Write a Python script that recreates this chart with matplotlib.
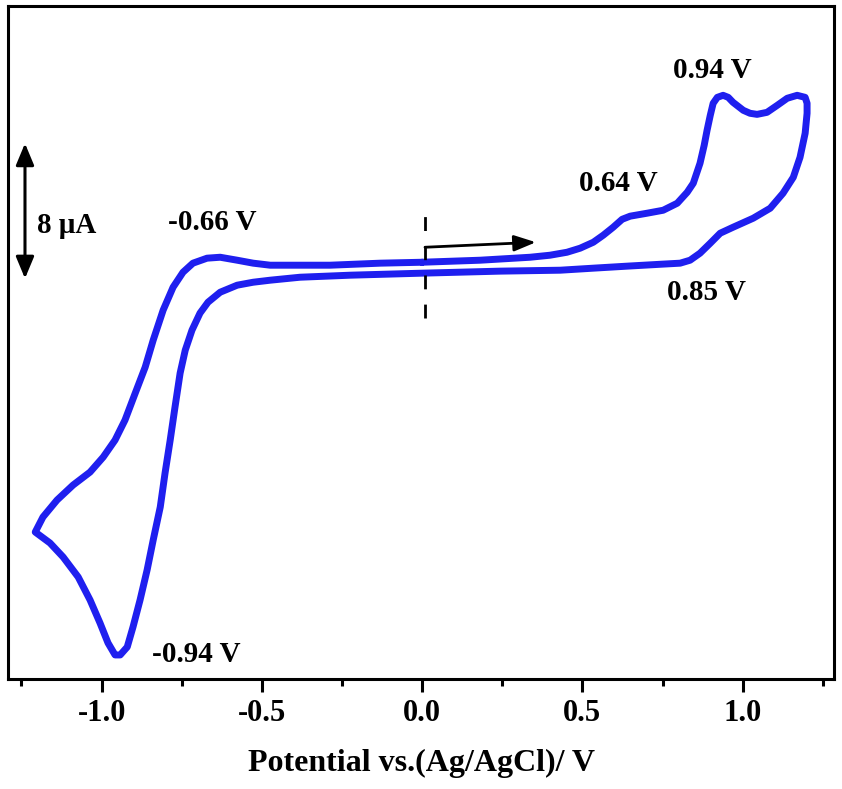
import numpy as np
import matplotlib
matplotlib.use("Agg")
from matplotlib import pyplot as plt
from matplotlib.ticker import MultipleLocator

plt.rcParams['font.family'] = ['Liberation Serif', 'DejaVu Serif']
plt.rcParams['font.weight'] = 'bold'

# potential (V) and current (uA), one full cycle starting at 0 V going positive
# forward scan 0 -> 1.2 V
fwd_E = [0.000, 0.181, 0.337, 0.399, 0.452, 0.493, 0.534, 0.565, 0.596, 0.624,
         0.649, 0.702, 0.752, 0.796, 0.827, 0.846, 0.867, 0.880, 0.889, 0.899,
         0.908, 0.921, 0.939, 0.955, 0.970, 1.002, 1.023, 1.045, 1.076, 1.108,
         1.139, 1.170, 1.195, 1.201]
fwd_I = [0.19, 0.32, 0.51, 0.64, 0.83, 1.09, 1.47, 1.92, 2.43, 2.94,
         3.14, 3.33, 3.52, 3.97, 4.67, 5.25, 6.53, 7.68, 8.64, 9.60,
         10.37, 10.75, 10.88, 10.75, 10.43, 9.92, 9.73, 9.66, 9.79, 10.24,
         10.69, 10.88, 10.75, 10.37]
# reverse scan 1.2 -> -1.2 V
rev_E = [1.201, 1.195, 1.179, 1.158, 1.126, 1.086, 1.033, 0.970, 0.930, 0.899,
         0.867, 0.836, 0.805, 0.743, 0.640, 0.534, 0.431, 0.243, 0.000, -0.225,
         -0.381, -0.474, -0.527, -0.577, -0.630, -0.668, -0.693, -0.718, -0.739, -0.755,
         -0.771, -0.786, -0.802, -0.817, -0.839, -0.858, -0.880, -0.902, -0.920, -0.942,
         -0.958, -0.980, -1.005, -1.036, -1.073, -1.120, -1.161, -1.207]
rev_I = [9.73, 8.45, 6.91, 5.63, 4.61, 3.65, 3.01, 2.43, 2.05, 1.41,
         0.77, 0.32, 0.13, 0.06, -0.06, -0.19, -0.32, -0.38, -0.51, -0.64,
         -0.77, -0.96, -1.09, -1.28, -1.73, -2.37, -3.07, -4.16, -5.44, -6.91,
         -9.09, -11.20, -13.31, -15.49, -17.60, -19.52, -21.44, -23.17, -24.45, -24.96,
         -24.96, -24.19, -22.91, -21.44, -19.97, -18.69, -17.79, -17.09]
# forward scan -1.2 -> 0 V
back_E = [-1.183, -1.139, -1.089, -1.036, -0.995, -0.958, -0.927, -0.895, -0.864, -0.839,
          -0.808, -0.777, -0.746, -0.715, -0.671, -0.630, -0.577, -0.527, -0.474, -0.287,
          -0.131, 0.000]
back_I = [-16.13, -15.04, -14.08, -13.25, -12.29, -11.20, -9.92, -8.19, -6.53, -4.80,
          -2.88, -1.41, -0.45, 0.13, 0.45, 0.51, 0.32, 0.13, 0.00, 0.00,
          0.13, 0.19]

peak_labels = ['-0.66 V', '0.94 V', '0.64 V', '0.85 V', '-0.94 V']
peak_label_x = [-0.655, 0.905, 0.612, 0.886, -0.705]
peak_label_y = [2.75, 12.48, 5.25, -1.73, -24.9]

tick_values = [-1.0, -0.5, 0.0, 0.5, 1.0]
tick_labels = ['-1.0', '-0.5', '0.0', '0.5', '1.0']

potential = fwd_E + rev_E + back_E
current = fwd_I + rev_I + back_I

fig = plt.figure(figsize=(8.42, 7.89), dpi=100)
ax = fig.add_axes([8 / 842, 1 - 679 / 789, 826 / 842, 673 / 789])

ax.plot(potential, current, color='#1f1fef', lw=5, solid_joinstyle='round',
        solid_capstyle='round')

ax.set_xlim(-1.292, 1.285)
ax.set_ylim(-26.5, 16.6)

for s in ax.spines.values():
    s.set_linewidth(2.2)
ax.set_yticks([])
ax.set_xticks(tick_values)
ax.set_xticklabels(tick_labels)
ax.xaxis.set_minor_locator(MultipleLocator(0.25))
ax.tick_params(axis='x', which='major', direction='out', length=9.5, width=2.2,
               labelsize=22, pad=5)
ax.tick_params(axis='x', which='minor', direction='out', length=5, width=2.2)
for lab in ax.get_xticklabels():
    lab.set_fontweight('bold')

ax.set_xlabel('Potential vs.(Ag/AgCl)/ V', fontsize=23, fontweight='bold', labelpad=15)

# peak labels
for txt, x, y in zip(peak_labels, peak_label_x, peak_label_y):
    ax.text(x, y, txt, fontsize=21, fontweight='bold', ha='center', va='center')

# scale bar
ax.annotate('', xy=(-1.239, 7.8), xytext=(-1.239, -0.85),
            arrowprops=dict(arrowstyle='<|-|>,head_length=0.6,head_width=0.25',
                            color='black', lw=2.2, mutation_scale=22,
                            shrinkA=0, shrinkB=0))
ax.text(-1.201, 2.56, '8 \u03bcA', fontsize=21, fontweight='bold', ha='left', va='center')

# start potential marker and scan direction
ax.plot([0.01, 0.01], [-3.4, 4.0], color='black', lw=2, dashes=(5, 5.5))
ax.annotate('', xy=(0.355, 1.47), xytext=(0.009, 1.15),
            arrowprops=dict(arrowstyle='-|>,head_length=0.6,head_width=0.22',
                            color='black', lw=2, mutation_scale=22,
                            shrinkA=0, shrinkB=0))

fig.savefig('out.png', dpi=100)
